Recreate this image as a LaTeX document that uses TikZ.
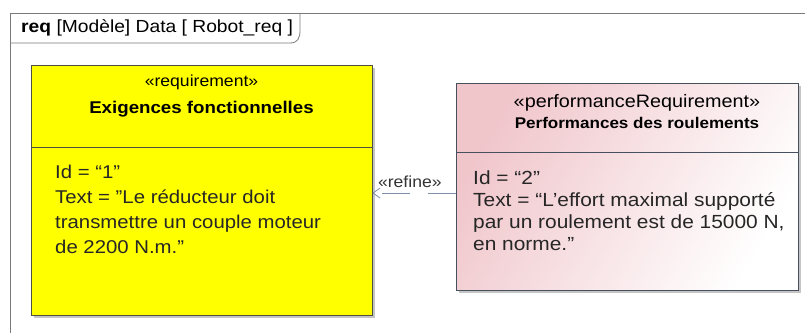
\documentclass[tikz,border=0pt]{standalone}
\usepackage{fontspec}
\setmainfont{Liberation Sans}[FakeStretch=1.1]
\usepackage{xcolor}
\usetikzlibrary{arrows.meta, shadows}

\definecolor{framegray}{HTML}{7A7A7A}
\definecolor{reqyellow}{HTML}{FFFF00}
\definecolor{reqborder}{HTML}{505040}
\definecolor{perfpink}{HTML}{F0C6CB}
\definecolor{perfborder}{HTML}{46505E}
\definecolor{refineblue}{HTML}{8090A8}

\tikzset{
    reqbox/.style={draw=reqborder, thick, fill=reqyellow, minimum width=341pt, minimum height=250pt, inner sep=0pt,
        drop shadow={shadow xshift=3pt, shadow yshift=-3pt, fill=black!45}},
    perfbox/.style={draw=perfborder, thick, top color=perfpink, bottom color=white, shading angle=60,
        minimum width=342pt, minimum height=207pt, inner sep=0pt,
        drop shadow={shadow xshift=3pt, shadow yshift=-3pt, fill=black!45}},
    bodytext/.style={anchor=north west, inner sep=0pt, align=left, text=black!85},
    refineline/.style={refineblue, thick, dash pattern=on 28pt off 18pt, -{Straight Barb[length=7pt, width=10pt]}}
}

\begin{document}
\begin{tikzpicture}[x=1pt, y=-1pt]
        \useasboundingbox[fill=white] (0, 0) rectangle (805, 333);

        % diagram frame and its tab
        \draw[framegray, thick] (805, 13) -- (10, 13) -- (10, 333);
        \draw[framegray, thick] (10, 43) -- (290, 43) .. controls (298, 43) and (300, 38) .. (300, 30) -- (300, 13);
        \node (tablabel) at (21, 28)[anchor=west, inner sep=0pt, font=\fontsize{17.5}{19}\selectfont] {\textbf{req} [Modèle] Data [ Robot\_req ]};

        \begin{scope}
            \node (req1) at (201.5, 190)[reqbox] {};

            \node (req1stereo) at (201.5, 82)[font=\fontsize{16}{18}\selectfont] {«requirement»};

            \node (req1name) at (201.5, 109)[font=\fontsize{17}{19}\selectfont\bfseries] {Exigences fonctionnelles};

            \draw[reqborder, thick] (31, 147) -- (372, 147);

            \node (req1body) at (55, 165)[bodytext, font=\fontsize{18.5}{25}\selectfont] {Id = ``1''\\ Text = ''Le réducteur doit\\ transmettre un couple moteur\\ de 2200 N.m.''};
        \end{scope}

        \begin{scope}
            \node (perf) at (627, 186.5)[perfbox] {};

            \node (perfstereo) at (637, 103)[font=\fontsize{18}{19}\selectfont] {«performanceRequirement»};

            \node (perfname) at (637, 123)[font=\fontsize{15.5}{18}\selectfont\bfseries] {Performances des roulements};

            \draw[perfborder, thick] (456, 152) -- (798, 152);

            \node (perfbody) at (473, 171)[bodytext, font=\fontsize{19}{21.7}\selectfont] {Id = ``2''\\ Text = ``L'effort maximal supporté\\ par un roulement est de 15000 N,\\ en norme.''};
        \end{scope}

        \draw[refineline] ([yshift=-6.5pt]perf.west) -- ([yshift=-3pt]req1.east) node (refinelabel) [pos=0.55, above=2pt, black!80, font=\fontsize{16}{18}\selectfont] {«refine»};
    \end{tikzpicture}
\end{document}
